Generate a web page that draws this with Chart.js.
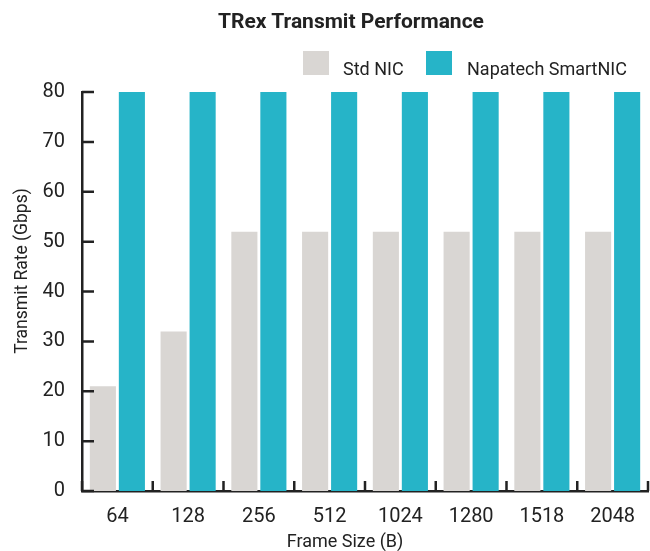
<!DOCTYPE html>
<html>
<head>
<meta charset="utf-8">
<script src="https://cdn.jsdelivr.net/npm/chart.js@4"></script>
<style>
body{margin:0;background:#fff;font-family:Roboto,sans-serif;color:#222}
#wrap{position:relative;width:650px;height:551px}
.t{position:absolute;white-space:nowrap;line-height:1}
#title{top:11px;left:51px;width:600px;text-align:center;font-weight:bold;font-size:21px}
.box{position:absolute;top:51px;width:26px;height:24px}
.lgt{top:60px;font-size:18px}
#xt{top:532px;left:195px;width:300px;text-align:center;font-size:18px}
</style>
</head>
<body>
<div id="wrap">
<canvas id="c" width="650" height="551"></canvas>
<div id="title" class="t">TRex Transmit Performance</div>
<div class="box" style="left:303px;background:#d9d6d3"></div>
<div class="t lgt" style="left:343px">Std NIC</div>
<div class="box" style="left:426px;background:#26b4c8"></div>
<div class="t lgt" style="left:467px">Napatech SmartNIC</div>
<div id="xt" class="t">Frame Size (B)</div>
</div>
<script>

const frameSizes = ["64","128","256","512","1024","1280","1518","2048"]
const stdNic = [21,32,52,52,52,52,52,52]
const smartNic = [80,80,80,80,80,80,80,80]
const yTicks = [0,10,20,30,40,50,60,70,80]
const yTitle = "Transmit Rate (Gbps)"

// ticks drawn pointing into the plot, plus the y title
const innerTicks = {
    id:"innerTicks",
    afterDraw(chart){
        const ctx = chart.ctx
        const x = chart.scales.x
        const y = chart.scales.y
        ctx.save()
        ctx.strokeStyle = "#222"
        ctx.lineWidth = 2.5
        ctx.beginPath()
        yTicks.forEach(v => {
            const py = y.getPixelForValue(v)
            ctx.moveTo(x.left, py)
            ctx.lineTo(x.left + 12, py)
        })
        for(let i = 0; i <= frameSizes.length; i++){
            const px = x.getPixelForValue(i - 0.5)
            ctx.moveTo(px, y.bottom)
            ctx.lineTo(px, y.bottom - 10)
        }
        ctx.stroke()

        ctx.translate(23, 271)
        ctx.rotate(-Math.PI / 2)
        ctx.fillStyle = "#222"
        ctx.font = "17.5px Roboto"
        ctx.textAlign = "center"
        ctx.textBaseline = "middle"
        ctx.fillText(yTitle, 0, 0)
        ctx.restore()
    }
}

new Chart(
    document.getElementById("c"),
    {
        type:"bar",
        data:{
            labels:frameSizes,
            datasets:[
                {
                    label:"Std NIC",
                    data:stdNic,
                    backgroundColor:"#d9d6d3"
                },
                {
                    label:"Napatech SmartNIC",
                    data:smartNic,
                    backgroundColor:"#26b4c8"
                }
            ]
        },
        options:{
            responsive:false,
            animation:false,
            categoryPercentage:0.82,
            barPercentage:0.9,
            layout:{
                padding:{top:92,right:2,left:0,bottom:0}
            },
            plugins:{
                legend:{display:false},
                title:{display:false},
                tooltip:{enabled:false}
            },
            scales:{
                x:{
                    grid:{display:false, offset:true},
                    border:{display:true, color:"#222", width:2.5},
                    ticks:{color:"#222", font:{family:"Roboto", size:20}, padding:6},
                    afterFit(s){ s.height = 60 }
                },
                y:{
                    min:0,
                    max:80,
                    grid:{display:false},
                    border:{display:true, color:"#222", width:2.5},
                    ticks:{stepSize:10, color:"#222", font:{family:"Roboto", size:20}, padding:9},
                    afterFit(s){ s.width = 82 }
                }
            }
        },
        plugins:[innerTicks]
    }
)
</script>
</body>
</html>
